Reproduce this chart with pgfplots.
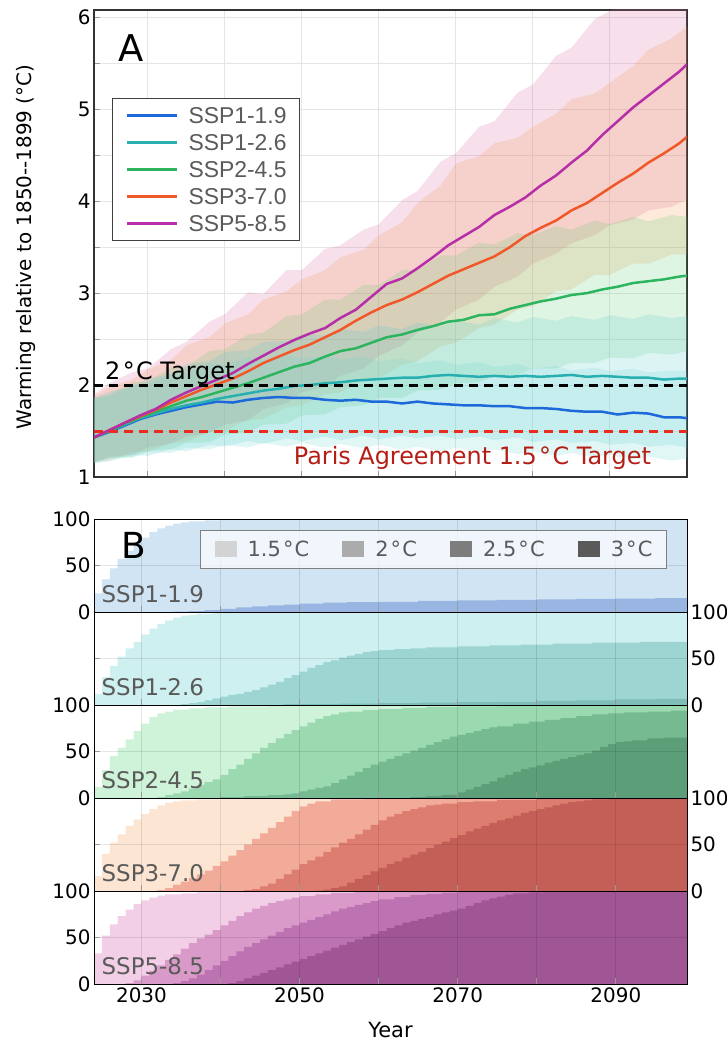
\documentclass[border=0pt]{standalone}
\usepackage{fontspec}
\setmainfont{DejaVu Sans}
\newfontfamily\arialfont{Liberation Sans}
\usepackage{pgfplots}
\pgfplotsset{compat=1.18}
\usepackage{pgfplotstable}
\usepgfplotslibrary{fillbetween}

% line colours
\definecolor{c19}{RGB}{30,105,218}
\definecolor{c26}{RGB}{40,176,176}
\definecolor{c45}{RGB}{45,180,95}
\definecolor{c70}{RGB}{240,88,42}
\definecolor{c85}{RGB}{182,46,168}
% band colours (used with opacity)
\definecolor{b19}{RGB}{106,214,210}
\definecolor{b26}{RGB}{85,200,205}
\definecolor{b45}{RGB}{95,205,115}
\definecolor{b70}{RGB}{245,150,75}
\definecolor{b85}{RGB}{215,95,155}
\definecolor{parisred}{RGB}{180,30,20}
\definecolor{dashred}{RGB}{232,44,30}
% panel B colours
\definecolor{s19a}{HTML}{D0E4F3}\definecolor{s19b}{HTML}{99B6E2}
\definecolor{s26a}{HTML}{CFF0F0}\definecolor{s26b}{HTML}{9DD5D2}\definecolor{s26c}{HTML}{7EBDB8}
\definecolor{s45a}{HTML}{CEF3D8}\definecolor{s45b}{HTML}{9BD9B1}\definecolor{s45c}{HTML}{76BA91}\definecolor{s45d}{HTML}{5B9E77}
\definecolor{s70a}{HTML}{FCE6D3}\definecolor{s70b}{HTML}{F2AA99}\definecolor{s70c}{HTML}{DC7D6F}\definecolor{s70d}{HTML}{C35F56}
\definecolor{s85a}{HTML}{F2CFE6}\definecolor{s85b}{HTML}{D99AC9}\definecolor{s85c}{HTML}{BD72B1}\definecolor{s85d}{HTML}{A05595}
\definecolor{g1}{HTML}{D3D3D3}\definecolor{g2}{HTML}{ABABAB}\definecolor{g3}{HTML}{7D7D7D}\definecolor{g4}{HTML}{5A5A5A}
\definecolor{labgray}{HTML}{5A5A5A}

\newcommand\dC{\kern0.1em°\kern0.06em C}

% medians
\pgfplotstableread{
year m19 m26 m45 m70 m85
2023 1.43 1.43 1.43 1.43 1.43
2025 1.49 1.50 1.50 1.51 1.51
2027 1.56 1.57 1.58 1.59 1.59
2029 1.63 1.64 1.65 1.66 1.67
2031 1.68 1.69 1.71 1.73 1.74
2033 1.72 1.74 1.77 1.81 1.84
2035 1.76 1.78 1.83 1.88 1.92
2037 1.79 1.81 1.87 1.95 1.99
2039 1.82 1.85 1.92 2.01 2.06
2041 1.81 1.88 1.97 2.07 2.13
2043 1.84 1.91 2.02 2.15 2.23
2045 1.86 1.94 2.08 2.24 2.32
2047 1.87 1.96 2.14 2.31 2.41
2049 1.86 1.99 2.20 2.38 2.49
2051 1.86 2.00 2.24 2.44 2.56
2053 1.84 2.02 2.31 2.52 2.62
2055 1.83 2.03 2.37 2.60 2.73
2057 1.84 2.05 2.40 2.70 2.82
2059 1.82 2.06 2.46 2.79 2.96
2061 1.82 2.07 2.52 2.87 3.10
2063 1.80 2.08 2.55 2.93 3.16
2065 1.82 2.08 2.60 3.01 3.27
2067 1.80 2.10 2.64 3.10 3.39
2069 1.79 2.11 2.69 3.19 3.52
2071 1.78 2.10 2.71 3.26 3.62
2073 1.78 2.09 2.76 3.33 3.72
2075 1.77 2.10 2.77 3.40 3.85
2077 1.77 2.09 2.83 3.50 3.94
2079 1.75 2.10 2.87 3.62 4.04
2081 1.75 2.09 2.91 3.71 4.17
2083 1.74 2.10 2.94 3.79 4.28
2085 1.72 2.11 2.98 3.90 4.42
2087 1.71 2.09 3.00 3.98 4.55
2089 1.71 2.10 3.04 4.09 4.72
2091 1.68 2.09 3.07 4.20 4.87
2093 1.70 2.08 3.11 4.30 5.02
2095 1.69 2.08 3.13 4.42 5.15
2097 1.65 2.06 3.15 4.52 5.28
2099 1.65 2.07 3.18 4.63 5.41
2100 1.64 2.07 3.19 4.70 5.49
}\medtab

% ranges
\pgfplotstableread{
year lo19 hi19 lo26 hi26 lo45 hi45 lo70 hi70 lo85 hi85
2023 1.15 1.85 1.15 1.86 1.16 1.86 1.16 1.88 1.16 1.90
2025 1.20 1.88 1.17 1.93 1.21 1.90 1.18 1.98 1.22 2.02
2028 1.21 2.00 1.24 1.98 1.22 2.03 1.27 2.06 1.24 2.14
2030 1.27 2.01 1.23 2.07 1.29 2.04 1.27 2.17 1.32 2.18
2033 1.26 2.12 1.30 2.12 1.30 2.19 1.37 2.27 1.36 2.39
2035 1.32 2.13 1.28 2.23 1.37 2.20 1.38 2.43 1.44 2.47
2038 1.30 2.24 1.35 2.26 1.38 2.37 1.49 2.52 1.48 2.69
2040 1.35 2.22 1.33 2.36 1.46 2.39 1.50 2.67 1.57 2.77
2043 1.32 2.30 1.39 2.38 1.48 2.55 1.62 2.77 1.62 3.01
2045 1.37 2.27 1.36 2.47 1.57 2.57 1.63 2.93 1.74 2.99
2048 1.33 2.33 1.42 2.48 1.58 2.75 1.76 3.02 1.80 3.25
2050 1.37 2.29 1.39 2.55 1.67 2.77 1.78 3.15 1.92 3.25
2053 1.32 2.32 1.44 2.54 1.68 2.93 1.90 3.25 1.98 3.48
2055 1.36 2.28 1.40 2.61 1.76 2.93 1.92 3.39 2.10 3.52
2058 1.31 2.31 1.45 2.58 1.78 3.09 2.06 3.47 2.18 3.69
2060 1.35 2.26 1.41 2.65 1.86 3.09 2.08 3.63 2.32 3.75
2063 1.30 2.29 1.45 2.61 1.86 3.25 2.22 3.77 2.43 4.01
2065 1.33 2.24 1.42 2.68 1.94 3.25 2.26 3.98 2.57 4.11
2068 1.28 2.27 1.45 2.64 1.95 3.41 2.42 4.17 2.68 4.43
2070 1.32 2.22 1.41 2.70 2.02 3.41 2.46 4.41 2.82 4.52
2073 1.27 2.25 1.44 2.66 2.03 3.55 2.62 4.49 2.93 4.81
2075 1.30 2.20 1.40 2.73 2.10 3.53 2.66 4.63 3.07 4.87
2078 1.25 2.23 1.43 2.68 2.11 3.65 2.82 4.69 3.18 5.18
2080 1.28 2.18 1.38 2.74 2.18 3.63 2.86 4.81 3.32 5.27
2083 1.23 2.21 1.41 2.70 2.18 3.73 3.02 4.95 3.43 5.58
2085 1.26 2.16 1.37 2.75 2.24 3.69 3.04 5.11 3.54 5.67
2088 1.21 2.19 1.39 2.71 2.24 3.79 3.20 5.17 3.63 5.98
2090 1.24 2.15 1.35 2.76 2.30 3.75 3.20 5.29 3.74 6.07
2093 1.19 2.18 1.37 2.72 2.29 3.83 3.32 5.47 3.80 6.38
2095 1.22 2.14 1.33 2.77 2.35 3.78 3.32 5.65 3.90 6.47
2098 1.18 2.16 1.35 2.73 2.33 3.85 3.42 5.77 3.94 6.78
2100 1.20 2.15 1.32 2.75 2.37 3.83 3.42 5.90 4.02 6.90
}\bandtab

\pgfplotsset{
  ar/.style={const plot, draw=none, forget plot},
  subB/.style={
    at={(94bp,#1)}, anchor=south west,
    scale only axis, width=593bp, height=93bp,
    xmin=2024, xmax=2099, ymin=0, ymax=100,
    xtick={2030,2040,...,2090}, xticklabels={}, ytick={0,50,100},
    grid=major, major grid style={black, opacity=0.1, line width=1bp},
    tick align=inside, major tick length=6bp,
    every tick/.style={black!40, line width=1bp},
    xtick pos=bottom, ytick pos=left,
    axis line style={black, line width=1bp}, axis on top,
    tick label style={font=\fontsize{20}{24}\selectfont},
    /pgf/number format/assume math mode=true,
  },
}
\tikzset{sublab/.style={anchor=base west, font=\fontsize{23}{27}\selectfont, text=labgray}}

\begin{document}
\begin{tikzpicture}

% ---------------- panel A
\begin{axis}[
  at={(94bp,-477bp)}, anchor=south west,
  scale only axis, width=593bp, height=467bp,
  xmin=2023, xmax=2100, ymin=1, ymax=6.08,
  xtick={2030,2040,...,2090}, xticklabels={},
  ytick={1,...,6}, minor ytick={1.5,2.5,3.5,4.5,5.5},
  grid=both, major grid style={black!10, line width=1bp}, minor grid style={black!10, line width=1bp},
  tick align=inside, major tick length=6bp, minor tick length=6bp,
  every tick/.style={black!40, line width=1bp},
  xtick pos=bottom, ytick pos=left,
  axis line style={black!80, line width=1.2bp},
  yticklabel style={font=\fontsize{20}{24}\selectfont},
  /pgf/number format/assume math mode=true,
  ylabel={Warming relative to 1850-{}-1899 (°C)},
  ylabel style={font=\fontsize{20}{24}\selectfont, at={(axis description cs:-0.1147,0.4925)}, anchor=center},
  legend cell align=left,
  legend image code/.code={\draw[#1, line width=3bp] (0bp,0bp) -- (50bp,0bp);},
  legend style={at={(0.0304,0.8116)}, anchor=north west, draw=black!75, line width=1bp, fill=white,
    font=\arialfont\fontsize{23}{27}\selectfont, text=labgray,
    inner xsep=13bp, inner ysep=3.5bp,
    nodes={inner xsep=0bp, inner ysep=0bp, text height=22bp, text depth=5bp},
    /tikz/column sep=10bp},
]
\addplot[name path=lo85, draw=none, forget plot] table[x=year, y=lo85] {\bandtab};
\addplot[name path=hi85, draw=none, forget plot] table[x=year, y=hi85] {\bandtab};
\addplot[fill=b85, fill opacity=0.2, draw=none, forget plot] fill between[of=lo85 and hi85];
\addplot[name path=lo70, draw=none, forget plot] table[x=year, y=lo70] {\bandtab};
\addplot[name path=hi70, draw=none, forget plot] table[x=year, y=hi70] {\bandtab};
\addplot[fill=b70, fill opacity=0.2, draw=none, forget plot] fill between[of=lo70 and hi70];
\addplot[name path=lo45, draw=none, forget plot] table[x=year, y=lo45] {\bandtab};
\addplot[name path=hi45, draw=none, forget plot] table[x=year, y=hi45] {\bandtab};
\addplot[fill=b45, fill opacity=0.2, draw=none, forget plot] fill between[of=lo45 and hi45];
\addplot[name path=lo26, draw=none, forget plot] table[x=year, y=lo26] {\bandtab};
\addplot[name path=hi26, draw=none, forget plot] table[x=year, y=hi26] {\bandtab};
\addplot[fill=b26, fill opacity=0.2, draw=none, forget plot] fill between[of=lo26 and hi26];
\addplot[name path=lo19, draw=none, forget plot] table[x=year, y=lo19] {\bandtab};
\addplot[name path=hi19, draw=none, forget plot] table[x=year, y=hi19] {\bandtab};
\addplot[fill=b19, fill opacity=0.2, draw=none, forget plot] fill between[of=lo19 and hi19];

\addplot[c19, line width=2.5bp] table[x=year, y=m19] {\medtab};
\addlegendentry{SSP1-1.9}
\addplot[c26, line width=2.5bp] table[x=year, y=m26] {\medtab};
\addlegendentry{SSP1-2.6}
\addplot[c45, line width=2.5bp] table[x=year, y=m45] {\medtab};
\addlegendentry{SSP2-4.5}
\addplot[c70, line width=2.5bp] table[x=year, y=m70] {\medtab};
\addlegendentry{SSP3-7.0}
\addplot[c85, line width=2.5bp] table[x=year, y=m85] {\medtab};
\addlegendentry{SSP5-8.5}

\addplot[black, line width=3bp, dash pattern=on 9bp off 6bp, forget plot] coordinates {(2023,2) (2100,2)};
\addplot[dashred, line width=3bp, dash pattern=on 9bp off 6bp, forget plot] coordinates {(2023,1.5) (2100,1.5)};

\node[anchor=base west, font=\fontsize{24}{28}\selectfont] at (axis cs:2024,2.06) {2\dC{} Target};
\node[anchor=base west, font=\fontsize{24}{28}\selectfont, text=parisred] at (axis cs:2048.5,1.135) {Paris Agreement 1.5\dC{} Target};
\node[anchor=base west, font=\fontsize{37}{40}\selectfont] at (axis description cs:0.035,0.889) {A};
\end{axis}

% ---------------- panel B, SSP1-1.9
\begin{axis}[subB=-612bp,
  legend columns=4,
  legend image code/.code={\fill[#1, fill opacity=1] (0bp,-8bp) rectangle (22bp,8bp);},
  legend style={at={(0.179,0.882)}, anchor=north west, draw=black!50, line width=1bp,
    fill=white, fill opacity=0.7, text opacity=1, text=labgray,
    font=\fontsize{21}{24}\selectfont, inner xsep=14bp, inner ysep=11bp,
    nodes={inner sep=0bp, text height=15bp, text depth=1bp},
    /tikz/every odd column/.append style={column sep=11bp},
    /tikz/every even column/.append style={column sep=33bp}},
]
\addplot[ar, fill=s19a] coordinates {(2024,20) (2025,35) (2026,47) (2027,57) (2028,66) (2029,74) (2030,80) (2031,86) (2032,90) (2033,93) (2034,95) (2035,96.5) (2036,97.5) (2038,98.5) (2040,99.3) (2044,100) (2099,100)} \closedcycle;
\addplot[ar, fill=s19b] coordinates {(2024,0) (2034,0.3) (2036,1) (2038,2) (2040,3.5) (2042,5) (2044,6) (2046,7) (2048,8) (2050,9) (2053,10) (2056,10.5) (2060,11) (2065,12) (2070,12.5) (2075,13) (2080,13.5) (2085,14) (2090,14.5) (2095,15) (2099,15.5)} \closedcycle;
\addlegendimage{fill=g1, draw=none}\addlegendentry{1.5\dC}
\addlegendimage{fill=g2, draw=none}\addlegendentry{2\dC}
\addlegendimage{fill=g3, draw=none}\addlegendentry{2.5\dC}
\addlegendimage{fill=g4, draw=none}\addlegendentry{3\dC}
\node[sublab] at (axis description cs:0.007,0.097) {SSP1-1.9};
\node[anchor=base west, font=\fontsize{36}{40}\selectfont] at (axis description cs:0.04,0.57) {B};
\end{axis}

% ---------------- SSP1-2.6
\begin{axis}[subB=-705bp, yticklabel pos=right]
\addplot[ar, fill=s26a] coordinates {(2024,12) (2025,30) (2026,42) (2027,52) (2028,61) (2029,68) (2030,76) (2031,82) (2032,87) (2033,91) (2034,94) (2035,96) (2036,97) (2037,98) (2039,99) (2041,100) (2099,100)} \closedcycle;
\addplot[ar, fill=s26b] coordinates {(2024,0) (2035,1) (2036,2) (2037,3) (2038,5) (2039,7) (2040,9) (2041,11) (2042,12) (2043,14) (2044,16) (2045,19) (2046,22) (2047,25) (2048,29) (2049,32) (2050,36) (2051,40) (2052,43) (2053,46) (2054,48) (2055,51) (2056,53) (2057,55) (2058,57) (2059,58) (2060,59) (2062,60) (2064,61) (2066,62) (2070,63) (2074,64) (2078,65) (2082,66) (2087,67) (2093,68) (2099,68)} \closedcycle;
\addplot[ar, fill=s26c] coordinates {(2024,0) (2048,1) (2055,1.5) (2060,2) (2065,2.5) (2070,3) (2075,3.5) (2080,4.5) (2085,5) (2090,6) (2095,6.5) (2099,7)} \closedcycle;
\node[sublab] at (axis description cs:0.007,0.097) {SSP1-2.6};
\end{axis}

% ---------------- SSP2-4.5
\begin{axis}[subB=-798bp]
\addplot[ar, fill=s45a] coordinates {(2024,12) (2025,30) (2026,45) (2027,54) (2028,63) (2029,72) (2030,80) (2031,87) (2032,91) (2033,93) (2034,95) (2036,96.5) (2038,97.5) (2041,98.5) (2046,99) (2052,99.5) (2056,100) (2099,100)} \closedcycle;
\addplot[ar, fill=s45b] coordinates {(2024,0) (2032,1) (2033,3) (2034,5) (2035,7) (2036,10) (2037,14) (2038,17) (2039,20) (2040,25) (2041,31) (2042,36) (2043,42) (2044,48) (2045,54) (2046,59) (2047,64) (2048,69) (2049,73) (2050,77) (2051,81) (2052,85) (2053,88) (2054,90) (2055,92) (2056,93) (2058,94.5) (2060,95.5) (2063,97) (2066,98) (2070,98.5) (2075,99.3) (2080,100) (2099,100)} \closedcycle;
\addplot[ar, fill=s45c] coordinates {(2024,0) (2040,1) (2043,2) (2046,3) (2048,4) (2049,5) (2050,7) (2051,9) (2052,11) (2053,12.5) (2054,16) (2055,20) (2056,24) (2057,28) (2058,32) (2059,36) (2060,39) (2061,42) (2062,45) (2063,48) (2064,51) (2065,54) (2066,57) (2067,60) (2068,63) (2069,66) (2070,68) (2071,70) (2072,72) (2073,74) (2074,76) (2075,77) (2077,80) (2079,82) (2081,84) (2083,86) (2085,88) (2087,90) (2089,91) (2091,92) (2094,93) (2097,94) (2099,94)} \closedcycle;
\addplot[ar, fill=s45d] coordinates {(2024,0) (2064,1) (2066,2) (2068,3.5) (2070,6) (2071,9) (2072,12) (2073,15) (2074,18) (2075,22) (2076,25) (2077,28) (2078,31) (2079,33) (2080,35) (2081,38) (2082,40) (2083,42) (2084,44) (2085,46) (2086,48) (2087,51) (2088,55) (2089,58) (2090,60) (2091,61) (2092,62) (2094,64) (2096,65) (2099,67)} \closedcycle;
\node[sublab] at (axis description cs:0.007,0.097) {SSP2-4.5};
\node[rotate=90, anchor=center, font=\fontsize{21}{24}\selectfont] at (axis description cs:-0.115,0.452) {Cumulative Percentage (\%)};
\end{axis}

% ---------------- SSP3-7.0
\begin{axis}[subB=-891bp, yticklabel pos=right]
\addplot[ar, fill=s70a] coordinates {(2024,16) (2025,40) (2026,52) (2027,61) (2028,70) (2029,77) (2030,83) (2031,88) (2032,92) (2033,95) (2034,96.5) (2035,97.5) (2037,98.5) (2040,99.2) (2046,99.6) (2051,100) (2099,100)} \closedcycle;
\addplot[ar, fill=s70b] coordinates {(2024,0) (2032,1) (2033,3) (2034,7) (2035,10) (2036,14) (2037,18) (2038,22) (2039,27) (2040,32) (2041,38) (2042,44) (2043,50) (2044,56) (2045,62) (2046,68) (2047,74) (2048,80) (2049,86) (2050,91) (2051,94) (2052,96.5) (2054,98.5) (2058,99.5) (2062,100) (2099,100)} \closedcycle;
\addplot[ar, fill=s70c] coordinates {(2024,0) (2043,1) (2044,2) (2045,5) (2046,8) (2047,13) (2048,18) (2049,23) (2050,29) (2051,33) (2052,37) (2053,42) (2054,47) (2055,52) (2056,56) (2057,61) (2058,66) (2059,71) (2060,76) (2061,80) (2062,83) (2063,86) (2064,88) (2065,90) (2066,92) (2067,93) (2068,94) (2070,95.5) (2072,96.5) (2075,98) (2080,99) (2085,100) (2099,100)} \closedcycle;
\addplot[ar, fill=s70d] coordinates {(2024,0) (2052,0.5) (2053,1.5) (2054,3) (2055,5) (2056,9) (2057,13) (2058,17) (2059,21) (2060,25) (2061,29) (2062,32) (2063,36) (2064,39) (2065,42) (2066,46) (2067,50) (2068,53) (2069,57) (2070,60) (2071,64) (2072,67) (2073,70) (2074,73) (2075,76) (2076,78) (2077,81) (2078,84) (2079,86) (2080,88) (2081,90) (2082,92) (2083,94) (2084,95.5) (2085,96.5) (2086,97.5) (2087,98.5) (2089,99.3) (2090,100) (2099,100)} \closedcycle;
\node[sublab] at (axis description cs:0.007,0.097) {SSP3-7.0};
\end{axis}

% ---------------- SSP5-8.5
\begin{axis}[subB=-984bp,
  xticklabels={2030,,2050,,2070,,2090},
  xlabel={Year},
  xlabel style={font=\fontsize{21}{24}\selectfont, at={(axis description cs:0.5,-0.495)}, anchor=center}]
\addplot[ar, fill=s85a] coordinates {(2024,33) (2025,52) (2026,64) (2027,73) (2028,80) (2029,86) (2030,90) (2031,93) (2032,95) (2033,96.5) (2035,97.5) (2037,98.5) (2040,99) (2045,99.5) (2050,100) (2099,100)} \closedcycle;
\addplot[ar, fill=s85b] coordinates {(2024,0) (2028,1) (2029,4) (2030,9) (2031,14) (2032,20) (2033,26) (2034,32) (2035,38) (2036,44) (2037,49) (2038,53) (2039,58) (2040,63) (2041,68) (2042,73) (2043,77) (2044,81) (2045,84) (2046,87) (2047,89) (2048,91) (2049,93) (2050,94.5) (2052,96.5) (2054,98) (2057,99.3) (2060,100) (2099,100)} \closedcycle;
\addplot[ar, fill=s85c] coordinates {(2024,0) (2034,1) (2035,3) (2036,6) (2037,10) (2038,15) (2039,20) (2040,25) (2041,30) (2042,35) (2043,40) (2044,44) (2045,48) (2046,52) (2047,56) (2048,60) (2049,63) (2050,66) (2051,69) (2052,72) (2053,75) (2054,78) (2055,81) (2056,83) (2057,85) (2058,87) (2059,89) (2060,91) (2062,93.5) (2064,95.5) (2066,97) (2068,98) (2070,99) (2073,100) (2099,100)} \closedcycle;
\addplot[ar, fill=s85d] coordinates {(2024,0) (2041,1) (2042,3) (2043,6) (2044,9) (2045,12) (2046,15) (2047,18) (2048,21) (2049,24) (2050,27) (2051,30) (2052,33) (2053,36) (2054,39) (2055,42) (2056,45) (2057,48) (2058,51) (2059,54) (2060,57) (2061,60) (2062,63) (2063,66) (2064,68) (2065,70) (2066,72) (2067,75) (2068,77) (2069,79) (2070,81) (2071,84) (2072,87) (2073,90) (2074,92) (2075,94) (2076,96) (2077,97.5) (2079,98.5) (2081,99.5) (2083,100) (2099,100)} \closedcycle;
\node[sublab] at (axis description cs:0.007,0.097) {SSP5-8.5};
\end{axis}

\pgfresetboundingbox
\path[use as bounding box] (0,0) rectangle (727bp,-1045bp);
\end{tikzpicture}
\end{document}
